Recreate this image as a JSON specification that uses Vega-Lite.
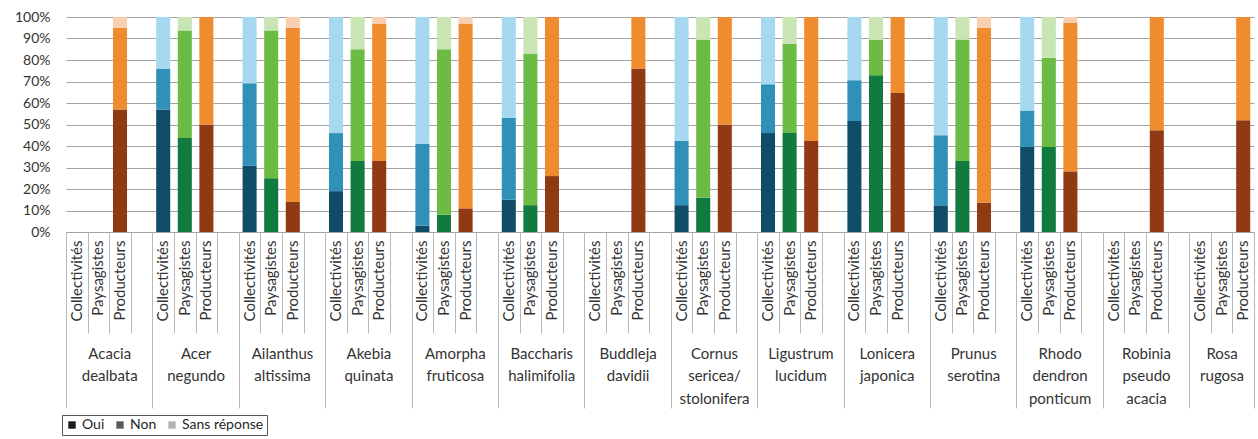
{
  "$schema": "https://vega.github.io/schema/vega-lite/v6.json",
  "width": 1188,
  "height": 215,
  "autosize": {"type": "none"},
  "padding": {"left": 66, "top": 17, "right": 4, "bottom": 207},
  "background": "white",
  "config": {
    "font": "Lato",
    "view": {"stroke": null},
    "axis": {"labelColor": "#333333", "title": null}
  },
  "data": {
    "values": [
      {"species": "Acacia dealbata", "category": "Producteurs", "Oui": 57, "Non": 38, "Sans réponse": 5},
      {"species": "Acer negundo", "category": "Collectivités", "Oui": 57, "Non": 19, "Sans réponse": 24},
      {"species": "Acer negundo", "category": "Paysagistes", "Oui": 43.75, "Non": 50, "Sans réponse": 6.25},
      {"species": "Acer negundo", "category": "Producteurs", "Oui": 50, "Non": 50, "Sans réponse": 0},
      {"species": "Ailanthus altissima", "category": "Collectivités", "Oui": 30.8, "Non": 38.4, "Sans réponse": 30.8},
      {"species": "Ailanthus altissima", "category": "Paysagistes", "Oui": 25, "Non": 68.75, "Sans réponse": 6.25},
      {"species": "Ailanthus altissima", "category": "Producteurs", "Oui": 14, "Non": 81, "Sans réponse": 5},
      {"species": "Akebia quinata", "category": "Collectivités", "Oui": 19, "Non": 27, "Sans réponse": 54},
      {"species": "Akebia quinata", "category": "Paysagistes", "Oui": 33, "Non": 52, "Sans réponse": 15},
      {"species": "Akebia quinata", "category": "Producteurs", "Oui": 33, "Non": 64, "Sans réponse": 3},
      {"species": "Amorpha fruticosa", "category": "Collectivités", "Oui": 3, "Non": 38, "Sans réponse": 59},
      {"species": "Amorpha fruticosa", "category": "Paysagistes", "Oui": 8, "Non": 77, "Sans réponse": 15},
      {"species": "Amorpha fruticosa", "category": "Producteurs", "Oui": 11, "Non": 86, "Sans réponse": 3},
      {"species": "Baccharis halimifolia", "category": "Collectivités", "Oui": 15, "Non": 38, "Sans réponse": 47},
      {"species": "Baccharis halimifolia", "category": "Paysagistes", "Oui": 12.5, "Non": 70.5, "Sans réponse": 17},
      {"species": "Baccharis halimifolia", "category": "Producteurs", "Oui": 26, "Non": 74, "Sans réponse": 0},
      {"species": "Buddleja davidii", "category": "Producteurs", "Oui": 76, "Non": 24, "Sans réponse": 0},
      {"species": "Cornus sericea/stolonifera", "category": "Collectivités", "Oui": 12.5, "Non": 30, "Sans réponse": 57.5},
      {"species": "Cornus sericea/stolonifera", "category": "Paysagistes", "Oui": 16, "Non": 73.5, "Sans réponse": 10.5},
      {"species": "Cornus sericea/stolonifera", "category": "Producteurs", "Oui": 50, "Non": 50, "Sans réponse": 0},
      {"species": "Ligustrum lucidum", "category": "Collectivités", "Oui": 46, "Non": 22.7, "Sans réponse": 31.3},
      {"species": "Ligustrum lucidum", "category": "Paysagistes", "Oui": 46, "Non": 41.6, "Sans réponse": 12.4},
      {"species": "Ligustrum lucidum", "category": "Producteurs", "Oui": 42.3, "Non": 57.7, "Sans réponse": 0},
      {"species": "Lonicera japonica", "category": "Collectivités", "Oui": 51.6, "Non": 19, "Sans réponse": 29.4},
      {"species": "Lonicera japonica", "category": "Paysagistes", "Oui": 72.9, "Non": 16.6, "Sans réponse": 10.5},
      {"species": "Lonicera japonica", "category": "Producteurs", "Oui": 64.7, "Non": 35.3, "Sans réponse": 0},
      {"species": "Prunus serotina", "category": "Collectivités", "Oui": 12.4, "Non": 32.6, "Sans réponse": 55},
      {"species": "Prunus serotina", "category": "Paysagistes", "Oui": 33, "Non": 56.5, "Sans réponse": 10.5},
      {"species": "Prunus serotina", "category": "Producteurs", "Oui": 13.7, "Non": 81.3, "Sans réponse": 5},
      {"species": "Rhododendron ponticum", "category": "Collectivités", "Oui": 39.5, "Non": 17, "Sans réponse": 43.5},
      {"species": "Rhododendron ponticum", "category": "Paysagistes", "Oui": 39.5, "Non": 41.6, "Sans réponse": 18.9},
      {"species": "Rhododendron ponticum", "category": "Producteurs", "Oui": 28.2, "Non": 69, "Sans réponse": 2.8},
      {"species": "Robinia pseudoacacia", "category": "Producteurs", "Oui": 47.3, "Non": 52.7, "Sans réponse": 0},
      {"species": "Rosa rugosa", "category": "Producteurs", "Oui": 52, "Non": 48, "Sans réponse": 0}
    ]
  },
  "transform": [
    {"fold": ["Oui", "Non", "Sans réponse"], "as": ["response", "value"]},
    {"calculate": "datum.species + '|' + datum.category", "as": "slot"},
    {"calculate": "datum.category + '|' + datum.response", "as": "key"},
    {"calculate": "indexof(['Oui', 'Non', 'Sans réponse'], datum.response)", "as": "rank"}
  ],
  "layer": [
    {
      "mark": {"type": "bar"},
      "encoding": {
        "x": {
          "field": "slot",
          "type": "nominal",
          "scale": {
            "domain": [
              "Acacia dealbata|Collectivités", "Acacia dealbata|Paysagistes", "Acacia dealbata|Producteurs", "gap1",
              "Acer negundo|Collectivités", "Acer negundo|Paysagistes", "Acer negundo|Producteurs", "gap2",
              "Ailanthus altissima|Collectivités", "Ailanthus altissima|Paysagistes", "Ailanthus altissima|Producteurs", "gap3",
              "Akebia quinata|Collectivités", "Akebia quinata|Paysagistes", "Akebia quinata|Producteurs", "gap4",
              "Amorpha fruticosa|Collectivités", "Amorpha fruticosa|Paysagistes", "Amorpha fruticosa|Producteurs", "gap5",
              "Baccharis halimifolia|Collectivités", "Baccharis halimifolia|Paysagistes", "Baccharis halimifolia|Producteurs", "gap6",
              "Buddleja davidii|Collectivités", "Buddleja davidii|Paysagistes", "Buddleja davidii|Producteurs", "gap7",
              "Cornus sericea/stolonifera|Collectivités", "Cornus sericea/stolonifera|Paysagistes", "Cornus sericea/stolonifera|Producteurs", "gap8",
              "Ligustrum lucidum|Collectivités", "Ligustrum lucidum|Paysagistes", "Ligustrum lucidum|Producteurs", "gap9",
              "Lonicera japonica|Collectivités", "Lonicera japonica|Paysagistes", "Lonicera japonica|Producteurs", "gap10",
              "Prunus serotina|Collectivités", "Prunus serotina|Paysagistes", "Prunus serotina|Producteurs", "gap11",
              "Rhododendron ponticum|Collectivités", "Rhododendron ponticum|Paysagistes", "Rhododendron ponticum|Producteurs", "gap12",
              "Robinia pseudoacacia|Collectivités", "Robinia pseudoacacia|Paysagistes", "Robinia pseudoacacia|Producteurs", "gap13",
              "Rosa rugosa|Collectivités", "Rosa rugosa|Paysagistes", "Rosa rugosa|Producteurs"
            ],
            "paddingInner": 0.35,
            "paddingOuter": 0.175
          },
          "axis": {
            "labelExpr": "indexof(datum.value, '|') >= 0 ? split(datum.value, '|')[1] : ''",
            "labelAngle": -90,
            "labelAlign": "right",
            "labelBaseline": "middle",
            "labelFontSize": 15,
            "labelPadding": 8,
            "ticks": false,
            "domain": false,
            "grid": false,
            "labelOverlap": false
          }
        },
        "y": {
          "field": "value",
          "type": "quantitative",
          "stack": "normalize",
          "scale": {"domain": [0, 1], "nice": false},
          "axis": {
            "values": [0, 0.1, 0.2, 0.3, 0.4, 0.5, 0.6, 0.7, 0.8, 0.9, 1],
            "format": ".0%",
            "grid": true,
            "gridColor": "#a3a3a3",
            "gridWidth": 1,
            "domain": false,
            "ticks": false,
            "labelFontSize": 14,
            "labelPadding": 16
          }
        },
        "order": {"field": "rank", "type": "quantitative", "sort": "ascending"},
        "color": {
          "field": "key",
          "type": "nominal",
          "scale": {
            "domain": [
              "Collectivités|Oui", "Collectivités|Non", "Collectivités|Sans réponse",
              "Paysagistes|Oui", "Paysagistes|Non", "Paysagistes|Sans réponse",
              "Producteurs|Oui", "Producteurs|Non", "Producteurs|Sans réponse"
            ],
            "range": ["#0f4c68", "#3091b8", "#a6d8f0", "#117a3e", "#6cbb45", "#c9e5b3", "#8f3a12", "#f08c30", "#f9cfb2"]
          },
          "legend": null
        }
      }
    },
    {
      "mark": {"type": "rule", "opacity": 0},
      "encoding": {
        "x": {
          "datum": 0,
          "type": "quantitative",
          "scale": {"domain": [0, 55], "nice": false, "zero": false},
          "axis": {
            "orient": "bottom",
            "values": [0,1,2,3,4,5,6,7,8,9,10,11,12,13,14,15,16,17,18,19,20,21,22,23,24,25,26,27,28,29,30,31,32,33,34,35,36,37,38,39,40,41,42,43,44,45,46,47,48,49,50,51,52,53,54,55],
            "labels": false,
            "domain": false,
            "grid": false,
            "ticks": true,
            "tickSize": 101,
            "tickColor": "#b8b8b8"
          }
        }
      }
    },
    {
      "mark": {"type": "rule", "opacity": 0},
      "encoding": {
        "x": {
          "datum": 0,
          "type": "quantitative",
          "scale": {"domain": [0, 55], "nice": false, "zero": false},
          "axis": {
            "orient": "bottom",
            "values": [0, 4, 8, 12, 16, 20, 24, 28, 32, 36, 40, 44, 48, 52, 55],
            "labels": false,
            "domain": false,
            "grid": false,
            "ticks": true,
            "tickSize": 176,
            "tickColor": "#b8b8b8"
          }
        }
      }
    },
    {
      "mark": {"type": "rule", "opacity": 0},
      "encoding": {
        "x": {
          "datum": 0,
          "type": "quantitative",
          "scale": {"domain": [0, 55], "nice": false, "zero": false},
          "axis": {
            "orient": "bottom",
            "values": [2, 6, 10, 14, 18, 22, 26, 30, 34, 38, 42, 46, 50, 53.5],
            "labelExpr": "split(['Acacia|dealbata', 'Acer|negundo', 'Ailanthus|altissima', 'Akebia|quinata', 'Amorpha|fruticosa', 'Baccharis|halimifolia', 'Buddleja|davidii', 'Cornus|sericea/|stolonifera', 'Ligustrum|lucidum', 'Lonicera|japonica', 'Prunus|serotina', 'Rhodo|dendron|ponticum', 'Robinia|pseudo|acacia', 'Rosa|rugosa'][floor(datum.value / 4)], '|')",
            "labelFontSize": 15,
            "labelLineHeight": 22.5,
            "labelBaseline": "top",
            "labelAlign": "center",
            "labelPadding": 114,
            "labelOverlap": false,
            "labelFlush": false,
            "labelBound": false,
            "domain": false,
            "grid": false,
            "ticks": false
          }
        }
      }
    },
    {
      "mark": {"type": "square", "size": 0},
      "encoding": {
        "color": {
          "field": "response",
          "type": "nominal",
          "scale": {"domain": ["Oui", "Non", "Sans réponse"], "range": ["#1c1c1c", "#5c5c5c", "#b3b3b3"]},
          "legend": {
            "orient": "none",
            "legendX": -4,
            "legendY": 398,
            "direction": "horizontal",
            "title": null,
            "symbolType": "square",
            "symbolSize": 55,
            "symbolOpacity": 1,
            "symbolStrokeWidth": 0,
            "labelFontSize": 14,
            "labelColor": "#262626",
            "strokeColor": "#555555",
            "padding": 3,
            "columnPadding": 8,
            "labelOffset": 3
          }
        }
      }
    }
  ],
  "resolve": {
    "scale": {"x": "independent", "color": "independent"},
    "axis": {"x": "independent"}
  }
}
